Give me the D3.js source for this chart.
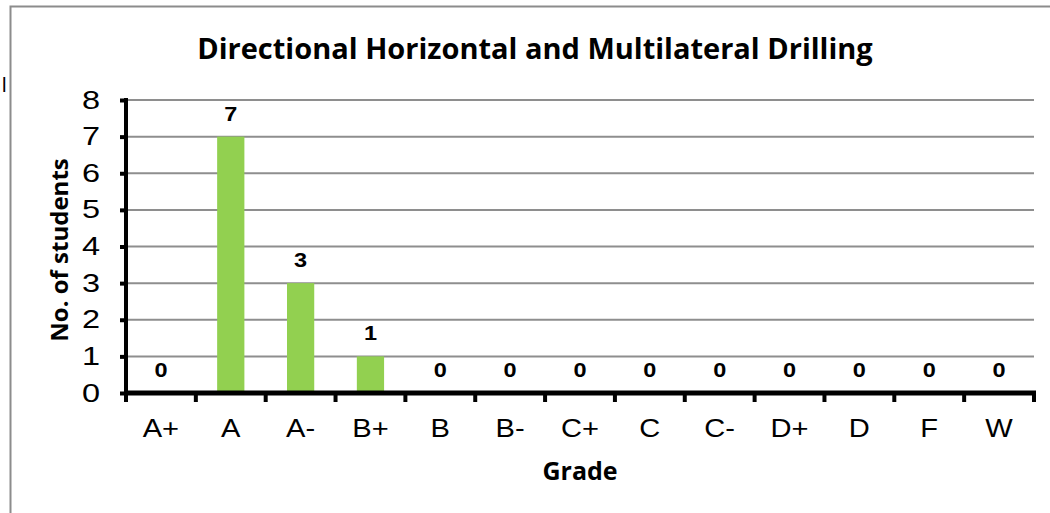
<!DOCTYPE html>
<html>
<head>
<meta charset="utf-8">
<script src="https://cdn.jsdelivr.net/npm/d3@7"></script>
<style>
  body { margin: 0; background: #fff; }
  svg { display: block; }
</style>
</head>
<body>
<div id="chart"></div>
<script>
// Data
const grades = ['A+', 'A', 'A-', 'B+', 'B', 'B-', 'C+', 'C', 'C-', 'D+', 'D', 'F', 'W']
const students = [0, 7, 3, 1, 0, 0, 0, 0, 0, 0, 0, 0, 0]
const yTicks = [0, 1, 2, 3, 4, 5, 6, 7, 8]

const width = 1050
const height = 513
const plot = { left: 126, right: 1034, top: 100, bottom: 393 }
const arial = 'Liberation Sans, Arial, sans-serif'

const svg = d3.select('#chart')
  .append('svg')
  .attr('width', width)
  .attr('height', height)

// chart frame (right / bottom edges fall outside the picture)
svg.append('rect')
  .attr('x', 10.5)
  .attr('y', 6.5)
  .attr('width', 1100)
  .attr('height', 600)
  .attr('fill', 'none')
  .attr('stroke', '#8c8c8c')
  .attr('stroke-width', 2)

// stray mark at the left edge
svg.append('text')
  .attr('x', 2)
  .attr('y', 92)
  .attr('font-family', arial)
  .attr('font-size', 20)
  .text('l')

// Scales
const xScale = d3.scaleBand()
  .domain(grades)
  .range([plot.left, plot.right])
  .paddingInner(0.61)
  .paddingOuter(0.305)

const band = d3.scaleBand()
  .domain(grades)
  .range([plot.left, plot.right])

const yScale = d3.scaleLinear()
  .domain([0, 8])
  .range([plot.bottom, plot.top])

// Gridlines
svg.append('g')
  .selectAll('line')
  .data(yTicks.filter(d => d > 0))
  .join('line')
  .attr('x1', plot.left)
  .attr('x2', plot.right)
  .attr('y1', d => yScale(d))
  .attr('y2', d => yScale(d))
  .attr('stroke', '#8e8e8e')
  .attr('stroke-width', 2)

// Bars
svg.append('g')
  .selectAll('rect')
  .data(grades)
  .join('rect')
  .attr('x', d => xScale(d))
  .attr('width', xScale.bandwidth())
  .attr('y', (d, i) => yScale(students[i]))
  .attr('height', (d, i) => yScale(0) - yScale(students[i]))
  .attr('fill', '#92d050')

// Value labels
svg.append('g')
  .selectAll('text')
  .data(grades)
  .join('text')
  .attr('transform', (d, i) =>
    `translate(${band(d) + band.bandwidth() / 2}, ${yScale(students[i]) - 16}) scale(1.12, 1)`)
  .attr('text-anchor', 'middle')
  .attr('font-family', arial)
  .attr('font-weight', 'bold')
  .attr('font-size', 21)
  .text((d, i) => students[i])

// Y axis
const yAxis = d3.axisLeft(yScale)
  .tickValues(yTicks)
  .tickSize(6)
  .tickPadding(0)
  .tickFormat(d3.format('d'))

const yAxisGroup = svg.append('g')
  .attr('transform', `translate(${plot.left}, 0)`)
  .call(yAxis)

yAxisGroup.select('.domain')
  .attr('d', `M0,${plot.top - 2}V${plot.bottom + 2}`)
  .attr('stroke', '#000')
  .attr('stroke-width', 4)
yAxisGroup.selectAll('.tick line')
  .attr('stroke', '#000')
  .attr('stroke-width', 4)
yAxisGroup.selectAll('.tick text')
  .attr('x', 0)
  .attr('transform', 'translate(-26, 0) scale(1.3, 1)')
  .attr('font-family', arial)
  .attr('font-size', 25)
  .attr('fill', '#000')

// X axis
const xAxis = d3.axisBottom(band)
  .tickSize(0)
  .tickPadding(0)

const xAxisGroup = svg.append('g')
  .attr('transform', `translate(0, ${plot.bottom})`)
  .call(xAxis)

xAxisGroup.select('.domain')
  .attr('d', `M${plot.left - 2},0H${plot.right + 2}`)
  .attr('stroke', '#000')
  .attr('stroke-width', 5)
xAxisGroup.selectAll('.tick text')
  .attr('y', 0)
  .attr('dy', null)
  .attr('transform', 'translate(0, 44) scale(1.12, 1)')
  .attr('font-family', arial)
  .attr('font-size', 26)
  .attr('fill', '#000')

// tick marks between categories
xAxisGroup.append('g')
  .selectAll('line')
  .data(grades.concat(['end']))
  .join('line')
  .attr('x1', (d, i) => i < grades.length ? band(d) : plot.right)
  .attr('x2', (d, i) => i < grades.length ? band(d) : plot.right)
  .attr('y1', 0)
  .attr('y2', 9)
  .attr('stroke', '#000')
  .attr('stroke-width', 4)

// Title
svg.append('text')
  .attr('x', 535)
  .attr('y', 59)
  .attr('text-anchor', 'middle')
  .attr('font-family', 'Open Sans, sans-serif')
  .attr('font-weight', 'bold')
  .attr('font-size', 29)
  .text('Directional Horizontal and Multilateral Drilling')

// Axis titles
svg.append('text')
  .attr('x', 580)
  .attr('y', 480)
  .attr('text-anchor', 'middle')
  .attr('font-family', 'Open Sans, sans-serif')
  .attr('font-weight', 'bold')
  .attr('font-size', 25)
  .text('Grade')

svg.append('text')
  .attr('transform', 'translate(68, 250) rotate(-90)')
  .attr('text-anchor', 'middle')
  .attr('font-family', 'Open Sans, sans-serif')
  .attr('font-weight', 'bold')
  .attr('font-size', 24)
  .text('No. of students')
</script>
</body>
</html>
